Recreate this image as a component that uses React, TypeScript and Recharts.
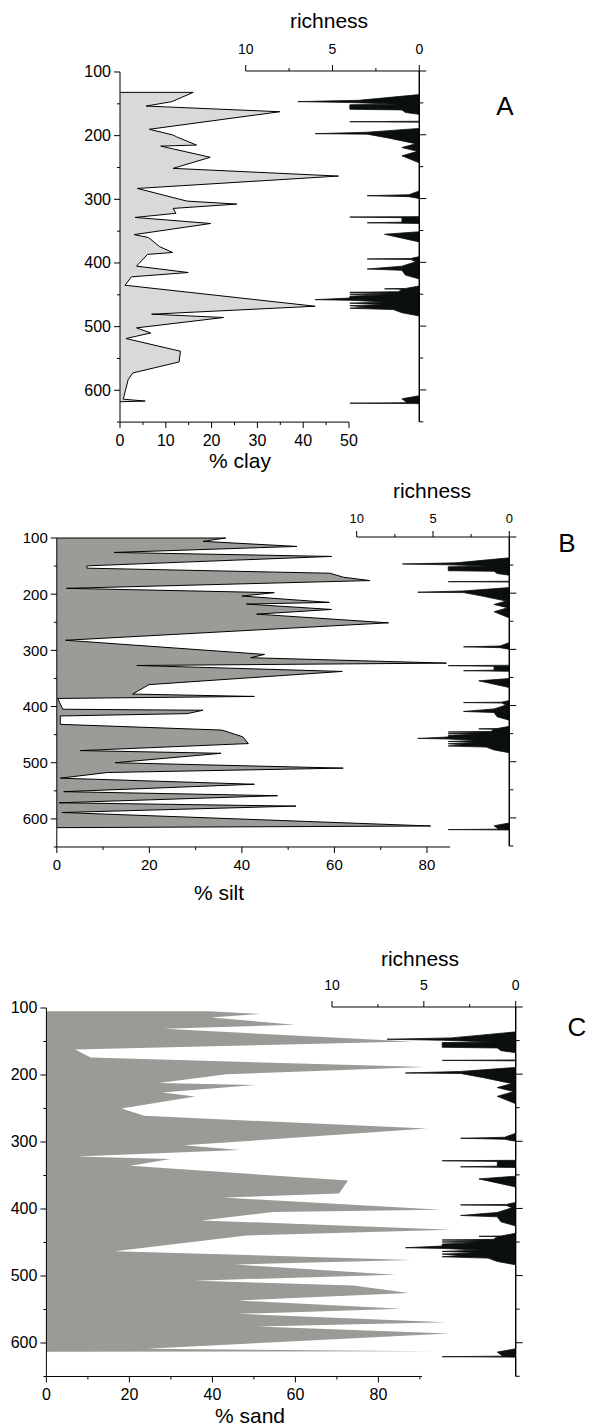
import React from "react";
import { ComposedChart, Area, XAxis, YAxis, ReferenceLine } from "recharts";

// sample depths (cm) and percentages
const clayDepth = [132, 132, 146.6, 153.5, 162.4, 190, 199, 202, 214.8, 216.4, 234, 251.4, 263.5, 282.9, 302.8, 307.5, 314.3, 322, 328.5, 338, 355.5, 360, 374.6, 383.5, 386.6, 405, 415, 421.8, 435, 468, 480.5, 485.7, 502, 510, 518.7, 538.7, 555.5, 572.8, 583, 614, 617, 618];
const clayPct = [0, 16, 11.3, 5.7, 34.9, 6.4, 11.6, 12.4, 16.7, 8.9, 19.7, 11.6, 47.7, 3.8, 14.6, 25.5, 11.6, 12.2, 3.3, 19.8, 3.1, 6.2, 8.7, 11.5, 6, 3.6, 14.9, 2.5, 1.1, 42.6, 6.9, 22.6, 3.6, 6.7, 1.3, 13.2, 12.9, 2.8, 1.8, 0.7, 5.5, 0];

const siltDepth = [100, 100, 106, 115, 125.7, 132.8, 149.6, 153.7, 162.7, 169.9, 175.8, 189.6, 197.3, 203.3, 214.6, 217.6, 227.2, 235.5, 251, 282, 307.2, 313.1, 322.7, 326.9, 337.5, 361, 377.8, 382, 385.6, 404.8, 406.6, 412.6, 416.8, 431.7, 441.9, 453.9, 465.9, 478.4, 483.2, 500, 509.6, 517.4, 527.5, 538.3, 551.5, 558.7, 571.3, 577.2, 588.6, 612.6, 615.6];
const siltPct = [0, 36.5, 31.6, 51.9, 12.4, 59.4, 6.5, 6.5, 59, 62, 67.7, 2.1, 47, 40, 58.9, 41, 59.4, 43.2, 71.7, 1.9, 44.9, 41.9, 84.2, 17.3, 61.7, 19.9, 16.4, 42.7, 0.2, 1.3, 31.6, 28.2, 0.75, 0.75, 35.7, 40.2, 41.4, 5.1, 35.5, 12.6, 61.9, 10.9, 0.75, 42.7, 1.5, 47.7, 0.5, 51.7, 1.1, 80.8, 0];

const sandDepth = [105, 105, 109, 114, 125, 131, 150, 162, 170, 174, 188, 199, 212, 215, 226, 232, 250, 261, 280, 305, 312, 321.5, 325.5, 335.5, 357.5, 377, 383, 401, 404.5, 417, 431, 439.5, 463, 476, 483, 498, 507, 514, 525.5, 536.5, 549, 556.5, 569, 575.5, 586, 608.5, 612.5, 613];
const sandPct = [0, 39.1, 51.6, 39.6, 59.8, 28.4, 88, 6.9, 9.5, 10.7, 91.3, 43.4, 27.1, 50.3, 27.9, 35.9, 18.1, 23.6, 91.7, 33.1, 46.6, 7.3, 29.9, 20.2, 72.7, 70.5, 42.6, 95.2, 54.6, 37.4, 97.6, 48.2, 16.5, 87.9, 45.6, 84.1, 35.9, 74, 87.3, 46, 85.6, 46.3, 96.3, 50.9, 97, 24.1, 93.5, 0];

// richness (same record beside every profile)
const richDepth = [100, 137, 146, 148, 149.5, 152, 153, 160, 161, 165, 168, 178.8, 179.5, 180.2, 190, 196, 198.3, 199, 205, 214, 220, 226, 233, 244, 288, 294, 295.5, 297, 300, 328.3, 329, 330, 337, 338, 339, 352, 356, 368, 391, 394, 394.7, 395.5, 399, 406, 410.5, 412.5, 420, 426, 437, 441, 441.5, 442, 446, 447, 448, 450, 451, 453, 456, 458.5, 459.5, 462, 464, 466, 468, 470, 472, 474, 479, 484, 609, 614, 620, 620.8, 621.5, 650];
const richVal = [0, 0, 3.5, 7, 4, 1.2, 4, 4, 1, 0.8, 0, 0, 4, 0, 0, 3, 6, 3, 1.8, 0.2, 1, 0.1, 1, 0, 0, 0.6, 3, 0.6, 0, 0, 4, 1, 1, 3, 0, 0, 2, 0, 0, 0.5, 3, 0.5, 0.2, 1, 3, 1, 0.8, 0, 0, 0.8, 2, 1, 1.2, 4, 1.5, 4, 2, 4, 4, 6, 4, 2, 4, 2, 4, 3, 4, 1.5, 1, 0, 0, 1, 0.7, 4, 0, 0];

const depthTicks = [100, 150, 200, 250, 300, 350, 400, 450, 500, 550, 600, 650];
const clayTicks = [0, 5, 10, 15, 20, 25, 30, 35, 40, 45, 50];
const siltTicks = [0, 10, 20, 30, 40, 50, 60, 70, 80];
const sandTicks = [0, 10, 20, 30, 40, 50, 60, 70, 80, 90];
const richTicks = [0, 2.5, 5, 7.5, 10];

const rows = (depths: number[], vals: number[]) => depths.map((d, i) => ({ depth: d, value: vals[i] }));
const clayData = rows(clayDepth, clayPct);
const siltData = rows(siltDepth, siltPct);
const sandData = rows(sandDepth, sandPct);
const richData = rows(richDepth, richVal);

const FONT = "'Liberation Sans', Arial, Helvetica, sans-serif";

type Side = "left" | "bottom" | "top" | "right";
type TickOpts = { side: Side; major: (v: number) => boolean; len: [number, number]; gap: number; size: number; labels: boolean };

function makeTick(o: TickOpts) {
  return (props: any) => {
    const { x, y, payload } = props;
    const v = payload.value as number;
    const big = o.major(v);
    const l = big ? o.len[0] : o.len[1];
    let line: React.ReactNode = null;
    let text: React.ReactNode = null;
    const tp = { fill: "#000", fontSize: o.size, fontFamily: FONT };
    if (o.side === "left") {
      line = <line x1={x} y1={y} x2={x - l} y2={y} />;
      if (big && o.labels) text = <text {...tp} x={x - o.len[0] - o.gap} y={y} textAnchor="end" dominantBaseline="central">{v}</text>;
    } else if (o.side === "bottom") {
      line = <line x1={x} y1={y} x2={x} y2={y + l} />;
      if (big && o.labels) text = <text {...tp} x={x} y={y + o.len[0] + o.gap + o.size / 2} textAnchor="middle" dominantBaseline="central">{v}</text>;
    } else if (o.side === "top") {
      line = <line x1={x} y1={y} x2={x} y2={y - l} />;
      if (big && o.labels) text = <text {...tp} x={x} y={y - o.len[0] - o.gap - o.size / 2} textAnchor="middle" dominantBaseline="central">{v}</text>;
    } else {
      line = <line x1={x} y1={y} x2={x + l} y2={y} />;
    }
    return (
      <g>
        <g stroke="#000" strokeWidth={1}>{line}</g>
        {text}
      </g>
    );
  };
}

type Box = { left: number; right: number; top: number; bottom: number };

type ProfileProps = {
  data: { depth: number; value: number }[];
  box: Box;
  domain: [number, number];
  ticks: number[];
  major: (v: number) => boolean;
  fill: string;
  stroke: string;
  axisEnd?: number;
  tickFont: number;
};

const Profile: React.FC<ProfileProps> = ({ data, box, domain, ticks, major, fill, stroke, axisEnd, tickFont }) => {
  const padTop = 10, padBottom = 45, yW = 45, xH = 40, padRight = 30;
  return (
    <div style={{ position: "absolute", left: 0, top: box.top - padTop }}>
      <ComposedChart
        layout="vertical"
        width={box.right + padRight}
        height={box.bottom - box.top + padTop + padBottom}
        data={data}
        margin={{ top: padTop, bottom: padBottom - xH, left: box.left - yW, right: padRight }}
      >
        <XAxis
          type="number"
          domain={domain}
          ticks={ticks}
          interval={0}
          height={xH}
          tickSize={0}
          tickMargin={0}
          tickLine={false}
          axisLine={axisEnd === undefined ? { stroke: "#000" } : false}
          tick={makeTick({ side: "bottom", major, len: [6, 3], gap: 4, size: tickFont, labels: true })}
        />
        <YAxis
          type="number"
          dataKey="depth"
          domain={[100, 650]}
          ticks={depthTicks}
          interval={0}
          width={yW}
          tickSize={0}
          tickMargin={0}
          tickLine={false}
          axisLine={{ stroke: "#000" }}
          tick={makeTick({ side: "left", major: (v) => v % 100 === 0, len: [6, 3], gap: 3, size: tickFont, labels: true })}
        />
        <Area
          type="linear"
          dataKey="value"
          baseValue={0}
          fill={fill}
          fillOpacity={1}
          stroke={stroke}
          strokeWidth={1}
          dot={false}
          activeDot={false}
          isAnimationActive={false}
        />
        {axisEnd !== undefined && (
          <ReferenceLine segment={[{ x: 0, y: 650 }, { x: axisEnd, y: 650 }]} stroke="#000" strokeWidth={1} />
        )}
      </ComposedChart>
    </div>
  );
};

const Richness: React.FC<{ box: Box; tickFont: number; gap: number }> = ({ box, tickFont, gap }) => {
  const padTop = 45, padBottom = 10, xH = 40, yW = 20, padRight = 10;
  return (
    <div style={{ position: "absolute", left: 0, top: box.top - padTop }}>
      <ComposedChart
        layout="vertical"
        width={box.right + yW + padRight}
        height={box.bottom - box.top + padTop + padBottom}
        data={richData}
        margin={{ top: padTop - xH, bottom: padBottom, left: box.left, right: padRight }}
      >
        <XAxis
          type="number"
          orientation="top"
          domain={[0, 10]}
          reversed
          ticks={richTicks}
          interval={0}
          height={xH}
          tickSize={0}
          tickMargin={0}
          tickLine={false}
          axisLine={{ stroke: "#000" }}
          tick={makeTick({ side: "top", major: (v) => v % 5 === 0, len: [6, 3], gap, size: tickFont, labels: true })}
        />
        <YAxis
          type="number"
          orientation="right"
          dataKey="depth"
          domain={[100, 650]}
          ticks={depthTicks}
          interval={0}
          width={yW}
          tickSize={0}
          tickMargin={0}
          tickLine={false}
          axisLine={{ stroke: "#000", strokeWidth: 1.3 }}
          tick={makeTick({ side: "right", major: (v) => v % 100 === 0, len: [7, 4], gap: 0, size: tickFont, labels: false })}
        />
        <Area
          type="linear"
          dataKey="value"
          baseValue={0}
          fill="#0b0f0d"
          fillOpacity={1}
          stroke="#0b0f0d"
          strokeWidth={0.8}
          dot={false}
          activeDot={false}
          isAnimationActive={false}
        />
      </ComposedChart>
    </div>
  );
};

const Title: React.FC<{ x: number; y: number; size: number; children: React.ReactNode }> = ({ x, y, size, children }) => (
  <div
    style={{
      position: "absolute",
      left: x,
      top: y,
      transform: "translate(-50%, -50%)",
      fontFamily: FONT,
      fontSize: size,
      lineHeight: 1,
      whiteSpace: "nowrap",
      color: "#000",
    }}
  >
    {children}
  </div>
);

const App: React.FC = () => {
  return (
    <div style={{ position: "absolute", left: 0, top: 0, width: 590, height: 1427, background: "#fff", overflow: "hidden" }}>
      {/* A: clay */}
      <Profile
        data={clayData}
        box={{ left: 120, right: 349, top: 71.7, bottom: 421.8 }}
        domain={[0, 50]}
        ticks={clayTicks}
        major={(v) => v % 10 === 0}
        fill="#d9d9d9"
        stroke="#000"
        tickFont={16}
      />
      <Richness box={{ left: 245.7, right: 419.3, top: 70.5, bottom: 421.3 }} tickFont={14} gap={9} />
      <Title x={329} y={20} size={21}>richness</Title>
      <Title x={505} y={106} size={26}>A</Title>
      <Title x={240} y={460} size={21}>% clay</Title>

      {/* B: silt */}
      <Profile
        data={siltData}
        box={{ left: 56.8, right: 450.1, top: 538, bottom: 847 }}
        domain={[0, 85]}
        ticks={siltTicks}
        major={(v) => v % 20 === 0}
        fill="#9c9b97"
        stroke="#000"
        tickFont={15}
      />
      <Richness box={{ left: 356.7, right: 509.3, top: 537, bottom: 846 }} tickFont={13} gap={6} />
      <Title x={432} y={490} size={21}>richness</Title>
      <Title x={567} y={543} size={26}>B</Title>
      <Title x={219} y={892} size={21}>% silt</Title>

      {/* C: sand */}
      <Profile
        data={sandData}
        box={{ left: 46.4, right: 461.4, top: 1008, bottom: 1376.5 }}
        domain={[0, 100]}
        ticks={sandTicks}
        major={(v) => v % 20 === 0}
        fill="#9b9a96"
        stroke="none"
        axisEnd={90.5}
        tickFont={16}
      />
      <Richness box={{ left: 332, right: 515.7, top: 1006.7, bottom: 1376 }} tickFont={14} gap={9} />
      <Title x={420} y={958} size={21}>richness</Title>
      <Title x={577} y={1027} size={26}>C</Title>
      <Title x={250} y={1415} size={21}>% sand</Title>
    </div>
  );
};

export default App;
